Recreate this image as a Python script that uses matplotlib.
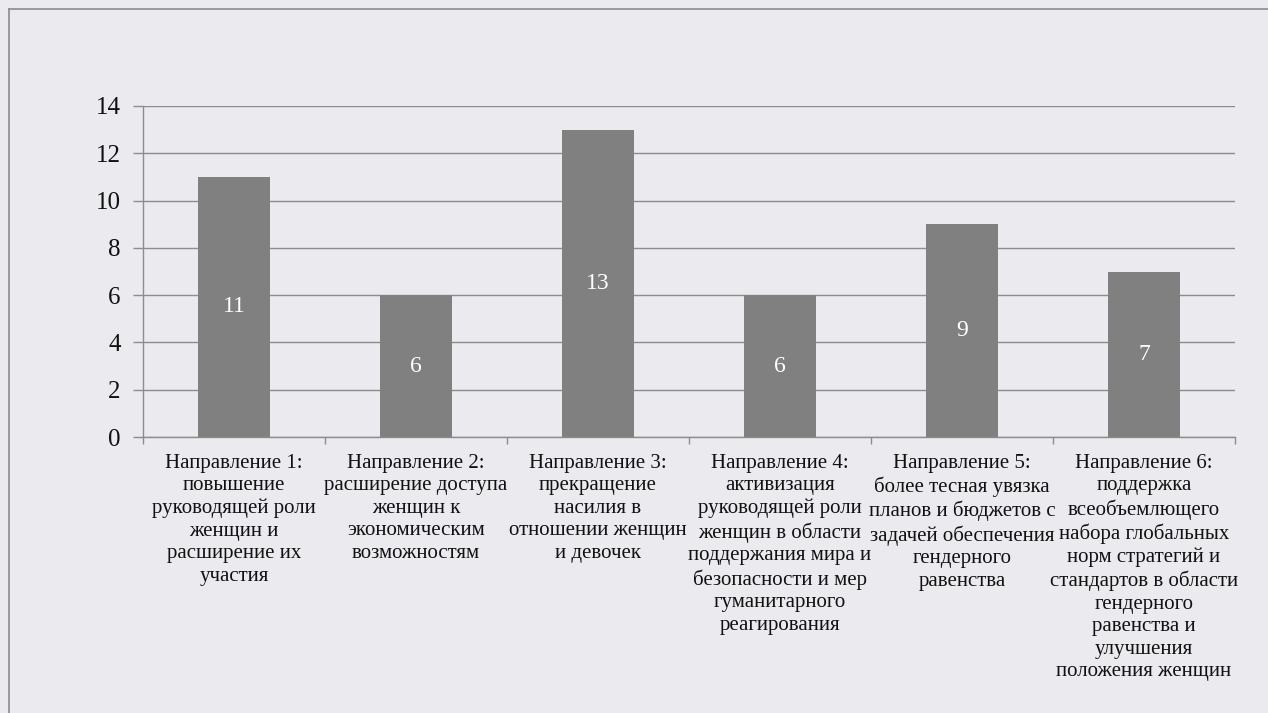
import matplotlib
matplotlib.use("Agg")
import matplotlib.pyplot as plt
from matplotlib.lines import Line2D
import numpy as np

categories = [
    "Направление 1:\nповышение\nруководящей роли\nженщин и\nрасширение их\nучастия",
    "Направление 2:\nрасширение доступа\nженщин к\nэкономическим\nвозможностям",
    "Направление 3:\nпрекращение\nнасилия в\nотношении женщин\nи девочек",
    "Направление 4:\nактивизация\nруководящей роли\nженщин в области\nподдержания мира и\nбезопасности и мер\nгуманитарного\nреагирования",
    "Направление 5:\nболее тесная увязка\nпланов и бюджетов с\nзадачей обеспечения\nгендерного\nравенства",
    "Направление 6:\nподдержка\nвсеобъемлющего\nнабора глобальных\nнорм стратегий и\nстандартов в области\nгендерного\nравенства и\nулучшения\nположения женщин",
]
values = [11, 6, 13, 6, 9, 7]
yticks = [0, 2, 4, 6, 8, 10, 12, 14]

plt.rcParams['font.family'] = ['Liberation Serif', 'DejaVu Serif']

bg = '#EBEBEF'
grid_c = '#8C8C8C'
fig = plt.figure(figsize=(12.68, 7.13), dpi=100, facecolor=bg)
ax = fig.add_axes([143/1268, 1-437/713, (1235-143)/1268, (437-106)/713])
ax.set_facecolor(bg)

x = np.arange(len(values))
bars = ax.bar(x, values, width=0.4, color='#808080', zorder=3)
for b, v in zip(bars, values):
    ax.text(b.get_x() + b.get_width()/2, v/2, str(v), ha='center', va='center',
            color='white', fontsize=17, zorder=4)

ax.set_xlim(-0.5, len(values) - 0.5)
ax.set_ylim(0, 14)
ax.set_yticks(yticks)
ax.set_yticklabels([str(t) for t in yticks], fontsize=18, color='#111111')
ax.yaxis.grid(True, color=grid_c, linewidth=1.0, zorder=0)
ax.tick_params(axis='y', length=7, width=1, color=grid_c, pad=9)

ax.set_xticks(x)
ax.set_xticklabels(categories, fontsize=15, linespacing=1.25, va='top', color='#111111')
ax.tick_params(axis='x', length=0, pad=12)
ax.set_xticks(np.arange(-0.5, len(values)), minor=True)
ax.tick_params(axis='x', which='minor', length=5, width=1, color=grid_c)

for s in ['top', 'right']:
    ax.spines[s].set_visible(False)
for s in ['left', 'bottom']:
    ax.spines[s].set_color(grid_c)
    ax.spines[s].set_linewidth(1.0)

# outer border (top and left)
fig.add_artist(Line2D([9/1268, 9/1268], [0, 1-9/713], transform=fig.transFigure,
                      color='#8C8C8C', linewidth=1.2))
fig.add_artist(Line2D([9/1268, 1], [1-9/713, 1-9/713], transform=fig.transFigure,
                      color='#8C8C8C', linewidth=1.2))

fig.savefig('out.png', dpi=100, facecolor=bg)
